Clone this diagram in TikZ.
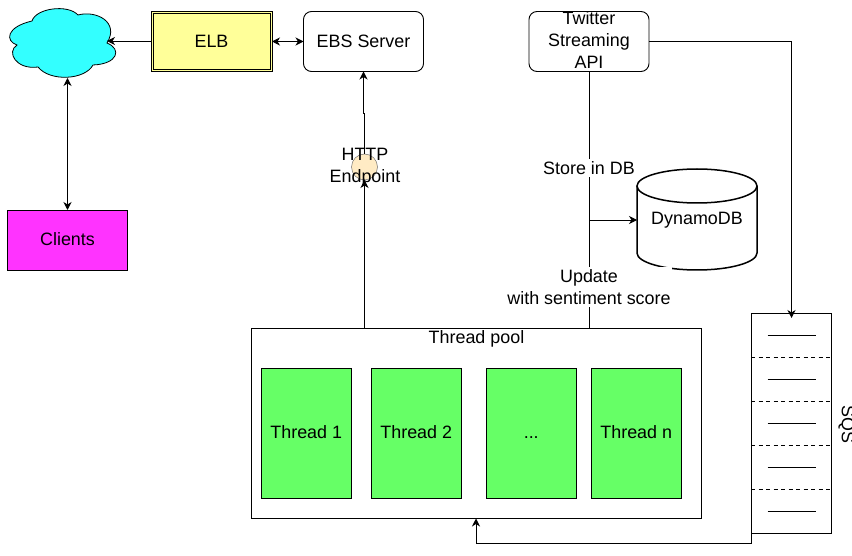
\documentclass[tikz,border=0pt]{standalone}
\usepackage{fontspec}
\setmainfont{Liberation Sans}
\usetikzlibrary{arrows.meta}
\definecolor{cloudc}{HTML}{33FFFF}
\definecolor{elbc}{HTML}{FFFF99}
\definecolor{clientc}{HTML}{FF33FF}
\definecolor{threadc}{HTML}{66FF66}
\definecolor{endc}{HTML}{FFEBC4}
\tikzset{
  lbl/.style={font=\fontsize{17.9}{22}\selectfont, align=center, inner sep=0pt, outer sep=0pt},
  bx/.style={lbl, draw=black, line width=0.9pt, minimum width=#1, minimum height=60pt, text height=12.8pt, text depth=1.5pt},
  bx/.default=120pt,
  srv/.style={bx, rounded corners=8pt, fill=white},
  thr/.style={lbl, draw=black, line width=0.9pt, fill=threadc, minimum width=90.5pt, minimum height=130pt, text height=12.8pt, text depth=1.5pt},
  wl/.style={lbl, fill=white, inner xsep=1pt, inner ysep=2pt},
  conn/.style={line width=0.9pt, draw=black},
  tip/.style={-{Stealth[length=8pt,width=8pt,inset=2.5pt]}},
  tips/.style={{Stealth[length=8pt,width=8pt,inset=2.5pt]}-{Stealth[length=8pt,width=8pt,inset=2.5pt]}},
  qd/.style={line width=0.8pt, dash pattern=on 4pt off 3.5pt},
  qs/.style={line width=0.8pt},
}
\begin{document}
\begin{tikzpicture}[x=1pt,y=-1pt]
\useasboundingbox (0,0) rectangle (852,556);
\clip (0,0) rectangle (852,556);
\fill[white] (0,0) rectangle (852,556);

% cloud
\draw[line width=0.8pt, fill=cloudc] (17,45)
  .. controls (5,41) and (6,27) .. (32,21)
  .. controls (36,8) and (68,4) .. (78,15)
  .. controls (96,10) and (120,22) .. (107,43)
  .. controls (122,49) and (118,64) .. (93,65)
  .. controls (85,80) and (50,82) .. (38,67)
  .. controls (16,70) and (6,52) .. (17,45) -- cycle;
\coordinate (cloudE) at (107,41);
\coordinate (cloudS) at (67.5,78);

% boxes
\node[bx=121pt, fill=elbc] (elb) at (211.5,41.5) {ELB};
\draw[line width=0.7pt] ([xshift=2pt,yshift=2pt]elb.south west) rectangle ([xshift=-2pt,yshift=-2pt]elb.north east);
\node[srv] (ebs) at (363.5,41.5) {EBS Server};
\node[srv] (tw) at (589,41.5) {};
\node[lbl] (twlbl) at (589,40) {Twitter\\Streaming\\API};
\node[bx, fill=clientc] (clients) at (67.5,240) {Clients};

% thread pool
\node[draw=black, line width=0.9pt, fill=white, minimum width=450pt, minimum height=190pt, inner sep=0pt, outer sep=0pt] (pool) at (476,423) {};
\node[lbl] (poollbl) at (476.5,339) {Thread pool};
\node[thr] (t1) at (306.25,433) {Thread 1};
\node[thr] (t2) at (416.25,433) {Thread 2};
\node[thr] (t3) at (531.25,433) {...};
\node[thr] (t4) at (636.25,433) {Thread n};

% queue
\node[draw=black, line width=0.9pt, fill=white, minimum width=80pt, minimum height=220pt, inner sep=0pt, outer sep=0pt] (q) at (791,423.5) {};
\foreach \y in {357.5,401.5,445.5,489.5} \draw[qd] (751,\y) -- (831,\y);
\foreach \y in {335,379,423,467,511} \draw[qs] (767.5,\y) -- (815.5,\y);
\node[lbl, rotate=-90] (sqs) at (846.5,424.5) {SQS};

% DynamoDB
\begin{scope}[line width=1.5pt]
\draw[fill=white] (637,186) -- (637,253) arc[x radius=60, y radius=-17, start angle=180, end angle=360] -- (757,186);
\draw[fill=white] (697,186) ellipse[x radius=60, y radius=17];
\end{scope}
\coordinate (dbW) at (637,220);
\node[lbl] (db) at (697,220) {DynamoDB};

% connectors
\coordinate (branch) at (589,220);
\draw[conn] (tw.south) -- (pool.north -| tw.south);
\draw[conn, tip] (branch) -- (dbW);
\node[wl] (store) at (589,168) {Store in DB};
\node[wl] (update) at (589,287) {Update\\with sentiment score};

\draw[conn, tip] (elb.west |- cloudE) -- (cloudE);
\draw[conn, tips] (elb.east) -- (ebs.west);
\draw[conn, tips] (cloudS) -- (clients.north);

\coordinate (qtop) at (791.5,318);
\draw[conn, tip] (tw.east) -- (qtop |- tw.east) -- (qtop);

\coordinate (qbl) at (751.5,533);
\coordinate (poolin) at (476,518.5);
\draw[conn, tip] (qbl) -- (751.5,543) -- (476,543) -- (poolin);

% HTTP endpoint
\node[draw=black!55, line width=0.5pt, fill=endc, circle, minimum size=26pt, inner sep=0pt, outer sep=0pt] (ep) at (364.5,167) {};
\coordinate (jogA) at (364.5,113);
\coordinate (jogB) at (363.5,113);
\draw[conn, tip] (364.5,328) -- (ep.south);
\draw[conn, tip] (ep.north) -- (jogA) -- (jogB) -- (ebs.south);
\node[lbl] (eplbl) at (365,167) {HTTP\\Endpoint};
\end{tikzpicture}
\end{document}
